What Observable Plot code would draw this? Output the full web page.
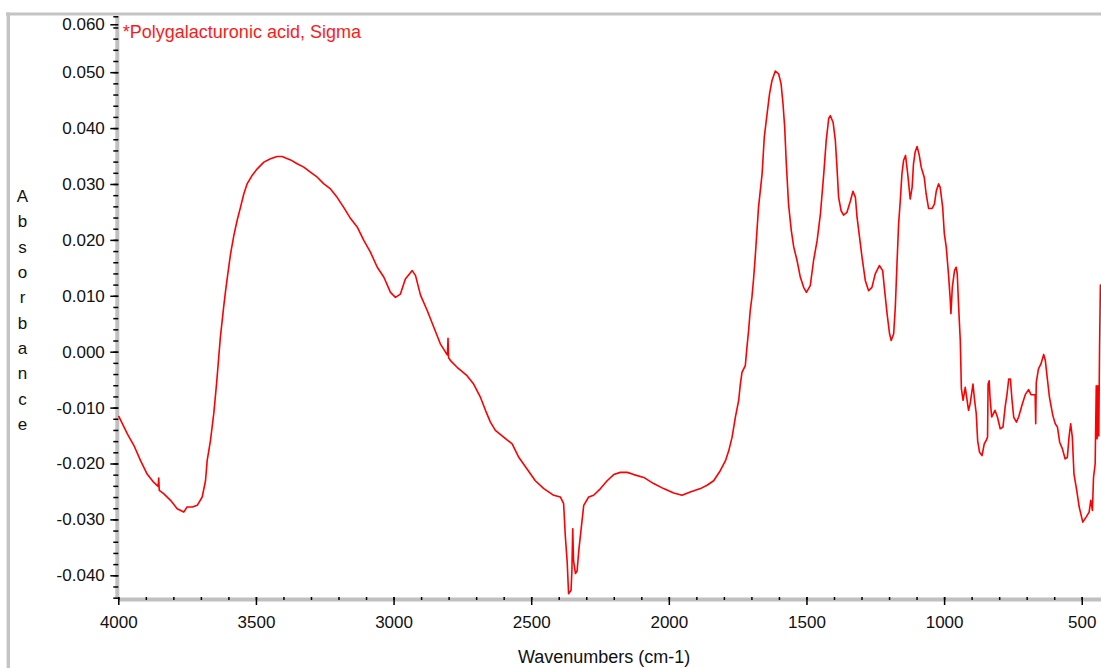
<!DOCTYPE html>
<html>
<head>
<meta charset="utf-8">
<script src="https://cdn.jsdelivr.net/npm/d3@7"></script>
<script src="https://cdn.jsdelivr.net/npm/@observablehq/plot@0.6"></script>
<style>
  body { margin: 0; background: #fff; }
  #chart { width: 1101px; height: 668px; overflow: hidden; }
</style>
</head>
<body>
<div id="chart"></div>
<script>
// FTIR spectrum of polygalacturonic acid (wavenumber in cm-1, absorbance)
const wavenumbers = [
  4000, 3969, 3945, 3921, 3897, 3873, 3857, 3855, 3853, 3837, 3812, 3788, 3764, 3752, 3733, 3715,
  3697, 3685, 3679, 3667, 3655, 3645, 3637, 3631, 3619, 3612, 3604, 3594, 3582, 3570, 3558, 3546,
  3534, 3516, 3497, 3473, 3449, 3425, 3407, 3376, 3352, 3328, 3304, 3279, 3255, 3231, 3207, 3183,
  3158, 3134, 3110, 3086, 3061, 3037, 3013, 2995, 2977, 2959, 2934, 2922, 2904, 2880, 2856, 2832,
  2813, 2806, 2804, 2802, 2795, 2771, 2735, 2711, 2686, 2668, 2650, 2632, 2602, 2571, 2547, 2517,
  2487, 2456, 2420, 2396, 2384, 2378, 2371, 2366, 2357, 2354, 2351, 2348, 2341, 2335, 2329, 2317,
  2311, 2293, 2275, 2250, 2226, 2202, 2178, 2153, 2129, 2093, 2057, 2021, 1984, 1954, 1924, 1887,
  1863, 1839, 1815, 1796, 1784, 1772, 1760, 1748, 1742, 1736, 1724, 1718, 1712, 1706, 1700, 1694,
  1688, 1676, 1663, 1655, 1645, 1636, 1627, 1615, 1603, 1594, 1587, 1581, 1575, 1567, 1557, 1548,
  1536, 1524, 1512, 1502, 1488, 1476, 1463, 1451, 1439, 1430, 1421, 1415, 1405, 1397, 1391, 1385,
  1376, 1367, 1355, 1342, 1333, 1324, 1318, 1309, 1300, 1288, 1276, 1264, 1252, 1237, 1225, 1219,
  1209, 1200, 1194, 1185, 1179, 1173, 1167, 1161, 1155, 1149, 1142, 1134, 1128, 1125, 1118, 1113,
  1107, 1100, 1092, 1085, 1074, 1067, 1058, 1046, 1037, 1030, 1022, 1016, 1007, 1001, 994, 986,
  980, 977, 972, 964, 958, 954, 949, 943, 939, 933, 925, 913, 907, 897, 891, 885,
  880, 873, 864, 856, 849, 844, 842, 838, 835, 829, 817, 808, 798, 788, 780, 773,
  767, 761, 755, 749, 739, 731, 719, 707, 695, 686, 671, 669, 667, 659, 650, 640,
  634, 628, 619, 607, 598, 590, 582, 572, 562, 554, 548, 542, 536, 530, 520, 511,
  498, 486, 475, 469, 463, 459, 453, 449, 446, 443, 440, 437, 434
];
const absorbance = [
  -0.0115, -0.0146, -0.0167, -0.0194, -0.0218, -0.0233, -0.0240, -0.0225, -0.0247, -0.0253, -0.0265, -0.0280, -0.0286, -0.0277, -0.0277, -0.0274,
  -0.0259, -0.0230, -0.0194, -0.0158, -0.0110, -0.0057, -0.0009, 0.0027, 0.0081, 0.0110, 0.0140, 0.0176, 0.0209, 0.0236, 0.0259, 0.0283,
  0.0301, 0.0316, 0.0328, 0.0340, 0.0346, 0.0350, 0.0350, 0.0344, 0.0337, 0.0331, 0.0322, 0.0313, 0.0301, 0.0292, 0.0277, 0.0259,
  0.0239, 0.0224, 0.0200, 0.0179, 0.0152, 0.0134, 0.0107, 0.0098, 0.0104, 0.0131, 0.0146, 0.0137, 0.0102, 0.0075, 0.0045, 0.0015,
  0.0000, -0.0005, 0.0025, -0.0010, -0.0015, -0.0027, -0.0042, -0.0057, -0.0081, -0.0104, -0.0125, -0.0140, -0.0152, -0.0164, -0.0188, -0.0209,
  -0.0230, -0.0244, -0.0256, -0.0259, -0.0271, -0.0328, -0.0376, -0.0432, -0.0426, -0.0391, -0.0316, -0.0373, -0.0396, -0.0391, -0.0355, -0.0301,
  -0.0274, -0.0259, -0.0256, -0.0244, -0.0230, -0.0219, -0.0215, -0.0215, -0.0219, -0.0224, -0.0235, -0.0244, -0.0252, -0.0256, -0.0250, -0.0244,
  -0.0238, -0.0230, -0.0212, -0.0194, -0.0176, -0.0152, -0.0116, -0.0086, -0.0057, -0.0036, -0.0024, 0.0009, 0.0039, 0.0075, 0.0098, 0.0131,
  0.0170, 0.0259, 0.0319, 0.0385, 0.0426, 0.0462, 0.0486, 0.0503, 0.0498, 0.0480, 0.0444, 0.0403, 0.0337, 0.0265, 0.0218, 0.0188,
  0.0164, 0.0134, 0.0116, 0.0107, 0.0119, 0.0164, 0.0200, 0.0248, 0.0319, 0.0379, 0.0418, 0.0423, 0.0411, 0.0379, 0.0331, 0.0277,
  0.0253, 0.0245, 0.0250, 0.0271, 0.0288, 0.0277, 0.0241, 0.0206, 0.0170, 0.0128, 0.0110, 0.0116, 0.0140, 0.0155, 0.0146, 0.0116,
  0.0069, 0.0033, 0.0021, 0.0033, 0.0081, 0.0158, 0.0230, 0.0271, 0.0319, 0.0343, 0.0352, 0.0319, 0.0289, 0.0274, 0.0295, 0.0337,
  0.0358, 0.0368, 0.0352, 0.0331, 0.0313, 0.0283, 0.0257, 0.0257, 0.0265, 0.0289, 0.0301, 0.0295, 0.0259, 0.0212, 0.0188, 0.0140,
  0.0098, 0.0069, 0.0116, 0.0146, 0.0152, 0.0140, 0.0081, 0.0021, -0.0065, -0.0086, -0.0063, -0.0104, -0.0092, -0.0057, -0.0086, -0.0110,
  -0.0158, -0.0179, -0.0185, -0.0164, -0.0158, -0.0152, -0.0057, -0.0051, -0.0081, -0.0116, -0.0104, -0.0116, -0.0137, -0.0134, -0.0098, -0.0074,
  -0.0048, -0.0048, -0.0086, -0.0116, -0.0125, -0.0116, -0.0095, -0.0076, -0.0067, -0.0076, -0.0076, -0.0128, -0.0054, -0.0030, -0.0021, -0.0004,
  -0.0015, -0.0042, -0.0081, -0.0113, -0.0128, -0.0134, -0.0161, -0.0173, -0.0191, -0.0188, -0.0152, -0.0128, -0.0152, -0.0218, -0.0247, -0.0277,
  -0.0304, -0.0295, -0.0286, -0.0265, -0.0283, -0.0224, -0.0200, -0.0060, -0.0155, -0.0060, -0.0150, 0.0010, 0.0120
];

const title = "*Polygalacturonic acid, Sigma";
const xLabel = "Wavenumbers (cm-1)";
const yLabel = "Absorbance";

const xDomain = [4000, 430];
const yDomain = [-0.04424, 0.06005];
const xMajorTicks = [4000, 3500, 3000, 2500, 2000, 1500, 1000, 500];
const xMinorTicks = d3.range(500, 4001, 100);
const yMajorTicks = [-0.04, -0.03, -0.02, -0.01, 0, 0.01, 0.02, 0.03, 0.04, 0.05];
const yTopTick = [0.06];
const yMinorTicks = d3.range(-22, 31).map(k => k * 0.002);

const spectrum = wavenumbers.map((w, i) => ({w, a: absorbance[i]}));

const font = "'Liberation Sans', Arial, Helvetica, sans-serif";
const axisColor = "#c0c0c0";
const blank = () => "";
const fixed3 = d => d.toFixed(3);

const svg = Plot.plot({
  width: 1101,
  height: 668,
  marginLeft: 118.3,
  marginRight: 0,
  marginTop: 16,
  marginBottom: 69,
  style: {fontFamily: font, fontSize: "17px", color: "#111", background: "#fff", overflow: "visible"},
  x: {domain: xDomain, axis: null},
  y: {domain: yDomain, axis: null},
  marks: [
    // thick grey axis lines
    Plot.ruleX([xDomain[0]], {stroke: axisColor, strokeWidth: 4, dx: -1.5}),
    Plot.ruleY([yDomain[0]], {stroke: axisColor, strokeWidth: 4}),
    // y ticks
    Plot.axisY({ticks: yMinorTicks, tickSize: 5, tickFormat: blank, label: null, stroke: "#000", strokeWidth: 1.5}),
    Plot.axisY({ticks: yMajorTicks, tickSize: 8, tickPadding: 6, tickFormat: fixed3, label: null, stroke: "#000", strokeWidth: 1.5, fill: "#111"}),
    Plot.axisY({ticks: yTopTick, tickSize: 8, tickPadding: 6, tickFormat: fixed3, label: null, stroke: "#000", strokeWidth: 1.5, fill: "#111", dy: 8}),
    // x ticks
    Plot.axisX({ticks: xMinorTicks, tickSize: 3, dy: -2, tickFormat: blank, label: null, stroke: "#000", strokeWidth: 1.5}),
    Plot.axisX({ticks: xMajorTicks, tickSize: 8, dy: -2, tickPadding: 10, tickFormat: d3.format("d"), label: null, stroke: "#000", strokeWidth: 1.5, fill: "#111"}),
    // spectrum
    Plot.line(spectrum, {x: "w", y: "a", stroke: "#ff0000", strokeWidth: 1.6}),
    // sample name
    Plot.text([title], {frameAnchor: "top-left", dx: 4, dy: 9, lineAnchor: "top", textAnchor: "start", fill: "#ff1a1a", fontSize: 18}),
    // axis titles
    Plot.text([xLabel], {frameAnchor: "bottom", dx: -6, dy: 51, lineAnchor: "top", fill: "#111", fontSize: 18}),
    Plot.text([yLabel.split("").join("\n")], {frameAnchor: "left", dx: -96.3, lineAnchor: "middle", lineHeight: 1.49, textAnchor: "middle", fill: "#111", fontSize: 17})
  ]
});

// grey window border along the top and left
const s = d3.select(svg);
s.append("line").attr("x1", 6).attr("x2", 1101).attr("y1", 14).attr("y2", 14)
  .attr("stroke", "#c4c4c4").attr("stroke-width", 3);
s.append("line").attr("x1", 8.3).attr("x2", 8.3).attr("y1", 12.5).attr("y2", 668)
  .attr("stroke", "#c4c4c4").attr("stroke-width", 3.4);

document.getElementById("chart").appendChild(svg);
</script>
</body>
</html>
